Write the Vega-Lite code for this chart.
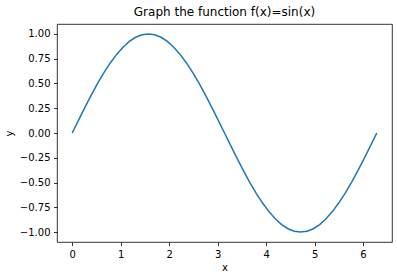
{
  "$schema": "https://vega.github.io/schema/vega-lite/v6.json",
  "width": 335,
  "height": 218,
  "autosize": "none",
  "padding": {"left": 57, "top": 24, "right": 5, "bottom": 36},
  "background": "white",
  "config": {
    "font": "DejaVu Sans",
    "view": {"stroke": "black", "strokeWidth": 0.8},
    "axis": {
      "grid": false,
      "domain": false,
      "tickColor": "black",
      "tickSize": 3.5,
      "tickWidth": 0.8,
      "labelColor": "black",
      "labelFont": "DejaVu Sans",
      "labelFontSize": 10,
      "labelPadding": 3.5,
      "titleFont": "DejaVu Sans",
      "titleFontSize": 10,
      "titleFontWeight": "normal",
      "titleColor": "black"
    },
    "title": {"font": "DejaVu Sans", "fontSize": 12, "fontWeight": "normal", "color": "black", "offset": 5, "baseline": "alphabetic", "anchor": "middle"}
  },
  "title": "Graph the function f(x)=sin(x)",
  "data": {
    "values": [
      {"x": 0, "y": 0},
      {"x": 0.1309, "y": 0.130526},
      {"x": 0.2618, "y": 0.258819},
      {"x": 0.3927, "y": 0.382683},
      {"x": 0.5236, "y": 0.5},
      {"x": 0.6545, "y": 0.608761},
      {"x": 0.7854, "y": 0.707107},
      {"x": 0.9163, "y": 0.793353},
      {"x": 1.0472, "y": 0.866025},
      {"x": 1.1781, "y": 0.92388},
      {"x": 1.309, "y": 0.965926},
      {"x": 1.4399, "y": 0.991445},
      {"x": 1.5708, "y": 1},
      {"x": 1.7017, "y": 0.991445},
      {"x": 1.8326, "y": 0.965926},
      {"x": 1.9635, "y": 0.92388},
      {"x": 2.0944, "y": 0.866025},
      {"x": 2.2253, "y": 0.793353},
      {"x": 2.3562, "y": 0.707107},
      {"x": 2.4871, "y": 0.608761},
      {"x": 2.618, "y": 0.5},
      {"x": 2.7489, "y": 0.382683},
      {"x": 2.8798, "y": 0.258819},
      {"x": 3.0107, "y": 0.130526},
      {"x": 3.1416, "y": 0},
      {"x": 3.2725, "y": -0.130526},
      {"x": 3.4034, "y": -0.258819},
      {"x": 3.5343, "y": -0.382683},
      {"x": 3.6652, "y": -0.5},
      {"x": 3.7961, "y": -0.608761},
      {"x": 3.927, "y": -0.707107},
      {"x": 4.0579, "y": -0.793353},
      {"x": 4.1888, "y": -0.866025},
      {"x": 4.3197, "y": -0.92388},
      {"x": 4.4506, "y": -0.965926},
      {"x": 4.5815, "y": -0.991445},
      {"x": 4.7124, "y": -1},
      {"x": 4.8433, "y": -0.991445},
      {"x": 4.9742, "y": -0.965926},
      {"x": 5.1051, "y": -0.92388},
      {"x": 5.236, "y": -0.866025},
      {"x": 5.3669, "y": -0.793353},
      {"x": 5.4978, "y": -0.707107},
      {"x": 5.6287, "y": -0.608761},
      {"x": 5.7596, "y": -0.5},
      {"x": 5.8905, "y": -0.382683},
      {"x": 6.0214, "y": -0.258819},
      {"x": 6.1523, "y": -0.130526},
      {"x": 6.2832, "y": 0}
    ]
  },
  "mark": {"type": "line", "color": "#1f77b4", "strokeWidth": 1.5},
  "encoding": {
    "x": {
      "field": "x",
      "type": "quantitative",
      "scale": {"domain": [-0.314, 6.597], "nice": false, "zero": false},
      "axis": {"values": [0, 1, 2, 3, 4, 5, 6], "format": "d", "title": "x", "titlePadding": 3}
    },
    "y": {
      "field": "y",
      "type": "quantitative",
      "scale": {"domain": [-1.1, 1.1], "nice": false, "zero": false},
      "axis": {"values": [-1, -0.75, -0.5, -0.25, 0, 0.25, 0.5, 0.75, 1], "format": ".2f", "title": "y", "titlePadding": 5}
    }
  }
}
